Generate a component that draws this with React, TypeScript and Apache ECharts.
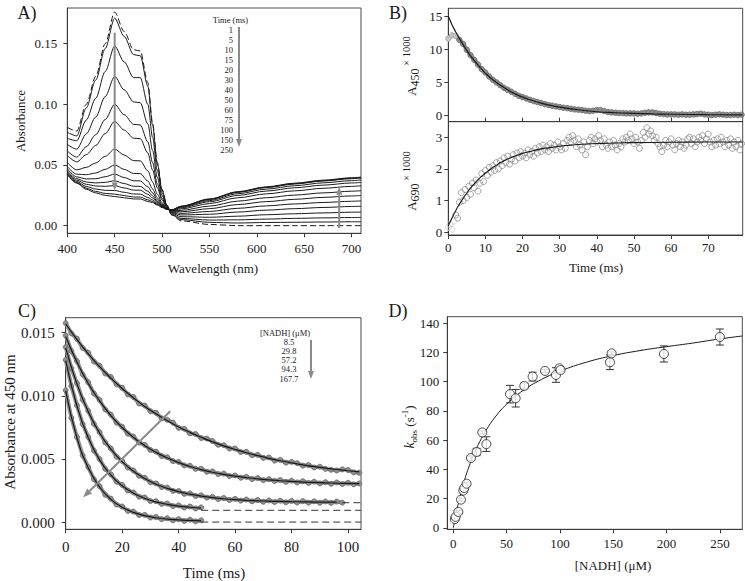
import React, { useEffect, useRef } from "react";
import * as echarts from "echarts";

const FONT = "Liberation Serif";
const INK = "#1a1a1a";
const AXIS = "#3a3a3a";
const ARROW = "#8a8a8a";

// ---------------- Panel A: spectra ----------------
const wavelengths = [400, 410, 420, 430, 440, 450, 460, 470, 477, 485, 490, 495, 500, 505, 510, 520, 550, 580, 610, 640, 670, 700, 710];
const timeLegend = ["1", "5", "10", "15", "20", "30", "40", "50", "60", "75", "100", "150", "250"];
const specOxidized = [0.081, 0.078, 0.100, 0.123, 0.150, 0.176, 0.160, 0.145, 0.144, 0.118, 0.085, 0.052, 0.030, 0.017, 0.009, 0.004, 0.001, 0.000, 0.000, 0.000, 0.000, 0.000, 0.000];
const spec1 = [0.077, 0.074, 0.097, 0.120, 0.146, 0.171, 0.156, 0.141, 0.140, 0.115, 0.083, 0.051, 0.0295, 0.017, 0.009, 0.005, 0.0027, 0.0022, 0.0026, 0.0028, 0.0030, 0.0032, 0.0032];
const spec5 = [0.072, 0.070, 0.087, 0.105, 0.127, 0.148, 0.135, 0.122, 0.122, 0.100, 0.073, 0.0456, 0.0272, 0.0164, 0.0097, 0.006, 0.0046, 0.0048, 0.0054, 0.0060, 0.0064, 0.0067, 0.0068];
const spec10 = [0.067, 0.063, 0.0756, 0.0895, 0.1064, 0.123, 0.112, 0.102, 0.1014, 0.0838, 0.062, 0.0398, 0.0248, 0.0158, 0.0104, 0.0074, 0.0069, 0.0078, 0.0090, 0.0098, 0.0105, 0.0111, 0.0112];
const spec15 = [0.0615, 0.0565, 0.065, 0.075, 0.0875, 0.100, 0.0915, 0.0835, 0.083, 0.069, 0.052, 0.0345, 0.0225, 0.0153, 0.011, 0.0088, 0.0094, 0.0112, 0.0128, 0.0140, 0.0150, 0.0158, 0.0160];
const spec20 = [0.0579, 0.0525, 0.0585, 0.0661, 0.0759, 0.0859, 0.0788, 0.0721, 0.0717, 0.0599, 0.0459, 0.0312, 0.0211, 0.0149, 0.0114, 0.0101, 0.0117, 0.0143, 0.0163, 0.0179, 0.0191, 0.0201, 0.0204];
const spec30 = [0.052, 0.046, 0.048, 0.0517, 0.0571, 0.0631, 0.0582, 0.0536, 0.0534, 0.0452, 0.036, 0.026, 0.0189, 0.0144, 0.012, 0.0114, 0.014, 0.0174, 0.0198, 0.0217, 0.0233, 0.0245, 0.0248];
const spec40 = [0.0487, 0.0424, 0.042, 0.0434, 0.0464, 0.050, 0.0464, 0.043, 0.0429, 0.0368, 0.0303, 0.023, 0.0176, 0.0141, 0.0123, 0.0126, 0.0161, 0.0202, 0.0230, 0.0252, 0.0270, 0.0284, 0.0288];
const spec50 = [0.0468, 0.0402, 0.0385, 0.0387, 0.0403, 0.0425, 0.0397, 0.037, 0.0369, 0.032, 0.027, 0.0213, 0.0168, 0.0139, 0.0125, 0.0138, 0.0182, 0.0230, 0.0262, 0.0287, 0.0308, 0.0324, 0.0328];
const spec60 = [0.0453, 0.0387, 0.036, 0.0352, 0.0357, 0.037, 0.0347, 0.0325, 0.0324, 0.0284, 0.0246, 0.020, 0.0163, 0.0138, 0.0127, 0.0147, 0.0197, 0.0249, 0.0285, 0.0312, 0.0334, 0.0352, 0.0356];
const spec75 = [0.0443, 0.0375, 0.0341, 0.0327, 0.0324, 0.033, 0.0311, 0.0293, 0.0292, 0.0258, 0.0229, 0.0191, 0.0159, 0.0137, 0.0128, 0.0153, 0.0207, 0.0263, 0.0301, 0.0329, 0.0353, 0.0371, 0.0376];
const spec100 = [0.0433, 0.0364, 0.0323, 0.0302, 0.0291, 0.029, 0.0275, 0.0261, 0.026, 0.0232, 0.0212, 0.0182, 0.0155, 0.0136, 0.0129, 0.0158, 0.0216, 0.0274, 0.0314, 0.0343, 0.0368, 0.0387, 0.0392];
const spec150 = [0.0425, 0.0356, 0.0309, 0.0282, 0.0266, 0.026, 0.0248, 0.0236, 0.0236, 0.0213, 0.0199, 0.0175, 0.0152, 0.0135, 0.0129, 0.0159, 0.0218, 0.0277, 0.0317, 0.0347, 0.0371, 0.0391, 0.0396];
const spec250 = [0.042, 0.035, 0.030, 0.027, 0.025, 0.024, 0.023, 0.022, 0.022, 0.020, 0.019, 0.017, 0.015, 0.0135, 0.013, 0.016, 0.022, 0.028, 0.032, 0.035, 0.0375, 0.0395, 0.040];
const wavelengthTicks = [400, 450, 500, 550, 600, 650, 700];
const absorbanceTicksA = [0, 0.05, 0.1, 0.15];
const arrowA450 = [[450, 0.159], [450, 0.029]];
const arrowA690 = [[687, -0.002], [687, 0.032]];

// ---------------- Panel B: single-wavelength kinetics ----------------
const bTopTime = [0,1,2,3,4,5,6,7,8,9,10,11,12,13,14,15,16,17,18,19,20,21,22,23,24,25,26,27,28,29,30,31,32,33,34,35,36,37,38,39,40,41,42,43,44,45,46,47,48,49,50,51,52,53,54,55,56,57,58,59,60,61,62,63,64,65,66,67,68,69,70,71,72,73,74,75,76,77,78,79];
const bTopA450 = [11.6,12.1,12.0,11.4,10.8,9.9,9.1,8.4,7.7,7.0, 6.5,5.9,5.4,5.0,4.6,4.2,3.9,3.6,3.3,3.0, 2.8,2.6,2.4,2.2,2.05,1.9,1.75,1.6,1.5,1.4, 1.3,1.2,1.15,1.05,0.95,0.9,0.85,0.75,0.7,0.75, 0.85,0.85,0.7,0.55,0.5,0.45,0.4,0.4,0.35,0.35, 0.35,0.3,0.35,0.45,0.5,0.5,0.4,0.3,0.25,0.2, 0.2,0.2,0.15,0.2,0.15,0.15,0.2,0.25,0.3,0.2, 0.15,0.1,0.15,0.2,0.15,0.1,0.1,0.15,0.1,0.15];
const bTopFitTime = [0,1,2,3,4,5,6,7,8,9,10,12,14,16,18,20,22,25,28,30,35,40,45,50,55,60,70,79.3];
const bTopFit = [15.0,13.7,12.6,11.6,10.7,9.8,9.0,8.3,7.6,7.0,6.4,5.4,4.6,3.9,3.3,2.8,2.4,1.9,1.5,1.3,0.9,0.6,0.45,0.35,0.27,0.22,0.15,0.12];
const bBotTime = [0,0.5,1,1.5,2,2.5,3,3.5,4,4.5, 5,5.5,6,6.5,7,7.5,8,8.5,9,9.5, 10,10.5,11,11.5,12,12.5,13,13.5,14,14.5, 15,15.5,16,16.5,17,17.5,18,18.5,19,19.5, 20,20.5,21,21.5,22,22.5,23,23.5,24,24.5, 25,25.5,26,26.5,27,27.5,28,28.5,29,29.5, 30,30.5,31,31.5,32,32.5,33,33.5,34,34.5, 35,35.5,36,36.5,37,37.5,38,38.5,39,39.5, 40,40.5,41,41.5,42,42.5,43,43.5,44,44.5, 45,45.5,46,46.5,47,47.5,48,48.5,49,49.5, 50,50.5,51,51.5,52,52.5,53,53.5,54,54.5, 55,55.5,56,56.5,57,57.5,58,58.5,59,59.5, 60,60.5,61,61.5,62,62.5,63,63.5,64,64.5, 65,65.5,66,66.5,67,67.5,68,68.5,69,69.5, 70,70.5,71,71.5,72,72.5,73,73.5,74,74.5, 75,75.5,76,76.5,77,77.5,78,78.5,79];
const bBotA690 = [0.15,0.25,0.1,0.35,0.55,0.45,0.95,1.25,1.0,1.35, 1.1,1.45,1.2,1.55,1.4,1.65,1.3,1.55,1.85,1.6, 1.95,1.8,2.05,1.9,2.1,1.95,2.2,2.0,2.25,2.1, 2.35,2.2,2.4,2.15,2.3,2.45,2.25,2.5,2.35,2.55, 2.4,2.5,2.35,2.6,2.45,2.55,2.4,2.65,2.5,2.7, 2.55,2.75,2.6,2.7,2.55,2.8,2.65,2.75,2.6,2.85, 2.7,2.6,2.8,2.65,2.9,3.0,2.85,3.05,2.9,2.7, 2.95,2.75,2.6,2.85,2.45,2.7,2.9,3.0,2.8,2.95, 2.85,3.05,2.9,2.7,2.95,2.75,2.65,2.85,2.7,2.9, 2.75,2.6,2.8,2.7,2.95,2.85,3.0,2.9,3.1,2.95, 2.8,3.0,2.85,2.65,2.9,3.15,3.0,3.3,3.1,3.2, 3.05,2.9,3.0,2.8,2.7,2.55,2.75,2.9,2.7,2.85, 2.95,2.75,2.6,2.8,2.9,2.7,2.85,2.65,2.75,2.95, 3.0,2.8,2.95,2.7,2.85,3.0,2.9,3.05,2.8,2.95, 3.1,2.85,2.7,2.9,2.75,2.95,2.8,3.0,2.85,2.7, 2.9,2.75,2.95,2.65,2.85,2.7,2.9,2.6,2.8];
const bBotFitTime = [0,0.5,1,1.5,2,2.5,3,3.5,4,4.5,5,5.5,6,6.5,7,7.5,8,8.5,9,9.5,10,11,12,13,14,15,16,17,18,19,20,22,24,26,28,30,33,36,40,45,50,60,70,79.3];
const bBotFit = [0.20,0.33,0.45,0.57,0.68,0.79,0.89,0.98,1.07,1.16,1.24,1.32,1.40,1.47,1.53,1.60,1.66,1.72,1.77,1.82,1.87,1.96,2.05,2.12,2.20,2.26,2.31,2.36,2.41,2.45,2.49,2.55,2.61,2.65,2.68,2.72,2.75,2.78,2.80,2.82,2.83,2.84,2.85,2.85];
const deadTimeMs = 2;
const timeTicksB = [0, 10, 20, 30, 40, 50, 60, 70];
const a450Ticks = [0, 5, 10, 15];
const a690Ticks = [0, 1, 2, 3];

// ---------------- Panel C: NADH dependence traces ----------------
const nadhLegend = ["8.5", "29.8", "57.2", "94.3", "167.7"];
const cTimeLong = [0,2,4,6,8,10,12,14,16,18,20,22,24,26,28,30,32,34,36,38,40,42,44,46,48,50,52,54,56,58,60,62,64,66,68,70,72,74,76,78,80,82,84,86,88,90,92,94,96,98,100,102,104];
const cTimeMid = [0,2,4,6,8,10,12,14,16,18,20,22,24,26,28,30,32,34,36,38,40,42,44,46,48,50,52,54,56,58,60,62,64,66,68,70,72,74,76,78,80,82,84,86,88,90,92,94,96,98];
const cTimeShort = [0,2,4,6,8,10,12,14,16,18,20,22,24,26,28,30,32,34,36,38,40,42,44,46,48];
const cFitTimeLong = [0,4,8,12,16,20,24,28,32,36,40,44,48,52,56,60,64,68,72,76,80,84,88,92,96,100,104];
const cFitTimeShort = [0,4,8,12,16,20,24,28,32,36,40,44,48];
const c8p5 = [0.01575,0.01495,0.01452,0.0138,0.01341,0.01272,0.0124,0.01178,0.0115,0.01092,0.01065,0.01012,0.00992,0.0094,0.00925,0.0088,0.00868,0.00824,0.00812,0.0079,0.00748,0.00742,0.00705,0.007,0.00668,0.00664,0.00645,0.00615,0.00612,0.00585,0.00586,0.00558,0.0056,0.00533,0.00536,0.00512,0.00515,0.0049,0.00496,0.00474,0.0048,0.0047,0.0045,0.00455,0.00436,0.00442,0.00425,0.00418,0.00412,0.00421,0.00416,0.00398,0.00394];
const c29p8 = [0.01478,0.01355,0.01275,0.0117,0.01108,0.0102,0.00969,0.00894,0.00853,0.0079,0.00758,0.00703,0.0068,0.00632,0.00615,0.00574,0.00561,0.00526,0.00517,0.00486,0.0048,0.00452,0.0045,0.00425,0.00426,0.00402,0.00405,0.00384,0.00388,0.00368,0.00373,0.00355,0.00362,0.00345,0.00352,0.00336,0.00344,0.00329,0.00337,0.00322,0.00332,0.00318,0.00327,0.00314,0.00324,0.0031,0.0032,0.00307,0.00318,0.00305,0.00315,0.00303,0.0031];
const c57p2 = [0.01386,0.0122,0.01101,0.00971,0.00883,0.0078,0.00714,0.00634,0.00586,0.00521,0.00488,0.00435,0.00412,0.0037,0.00355,0.00319,0.0031,0.00281,0.00277,0.00251,0.00251,0.00228,0.00231,0.00211,0.00216,0.00198,0.00204,0.00187,0.00195,0.00179,0.00188,0.00174,0.00183,0.00169,0.00179,0.00165,0.00176,0.00163,0.00174,0.00161,0.00172,0.00159,0.00171,0.00158,0.00169,0.00157,0.00168,0.00156,0.00167,0.00158];
const c94p3 = [0.01285,0.01078,0.00926,0.00778,0.00676,0.00569,0.00502,0.00425,0.00382,0.00324,0.00298,0.00254,0.00239,0.00205,0.00199,0.00171,0.0017,0.00148,0.00151,0.00131,0.00137,0.0012,0.00128,0.00112,0.00121];
const c167p7 = [0.01045,0.00828,0.00676,0.00532,0.00439,0.00343,0.00288,0.00221,0.0019,0.00143,0.00128,0.00093,0.00088,0.00061,0.00062,0.00041,0.00045,0.00028,0.00035,0.00019,0.00028,0.00014,0.00024,0.0001,0.00019];
const fit8p5 = [0.0157,0.01445,0.01333,0.01232,0.01141,0.01059,0.00985,0.00918,0.00859,0.00805,0.00756,0.00713,0.00674,0.00638,0.00606,0.00578,0.00552,0.00529,0.00508,0.00489,0.00472,0.00457,0.00443,0.00431,0.0042,0.0041,0.00401];
const fit29p8 = [0.0147,0.01267,0.01099,0.00961,0.00846,0.00751,0.00673,0.00608,0.00555,0.00511,0.00474,0.00444,0.00419,0.00398,0.00381,0.00367,0.00356,0.00346,0.00338,0.00331,0.00326,0.00321,0.00318,0.00315,0.00312,0.0031,0.00308];
const fit57p2 = [0.0138,0.01094,0.00876,0.00708,0.0058,0.00482,0.00406,0.00349,0.00304,0.00271,0.00245,0.00225,0.0021,0.00198,0.00189,0.00182,0.00177,0.00173,0.0017,0.00168,0.00166,0.00165,0.00163,0.00163,0.00162];
const fit94p3 = [0.0128,0.0092,0.0067,0.00496,0.00376,0.00292,0.00233,0.00193,0.00164,0.00145,0.00131,0.00122,0.00115];
const fit167p7 = [0.0104,0.0067,0.00433,0.00282,0.00184,0.00122,0.00082,0.00056,0.00039,0.00029,0.00022,0.00018,0.00015];
const asymptoteStart = [98, 48, 48];
const asymptoteLevel = [0.00158, 0.00098, 0.00005];
const timeTicksC = [0, 20, 40, 60, 80, 100];
const absorbanceTicksC = [0, 0.005, 0.01, 0.015];
const arrowC = [[37, 0.0088], [6.2, 0.002]];

// ---------------- Panel D: kobs vs [NADH] ----------------
const dNadh = [1.5, 2.2, 4.7, 7.2, 9.4, 10.3, 12.5, 16.6, 21.9, 27.2, 31.0, 53.2, 58.5, 66.6, 74.4, 86.0, 96.3, 99.5, 100.6, 146.9, 148.5, 197.5, 250.0];
const dKobs = [6.0, 7.5, 10.9, 19.3, 25.5, 27.3, 30.2, 47.8, 51.9, 65.3, 57.3, 91.5, 88.7, 97.1, 103.5, 107.4, 104.6, 109.2, 108.0, 113.3, 119.4, 119.0, 130.6];
const dErr = [0.5, 0.5, 1, 1, 1, 1, 1, 1.5, 2.5, 1, 5, 6, 6, 2, 3, 1, 5, 1, 1, 5, 1, 5.5, 5.5];
const dFitNadh = [0, 2, 5, 10, 15, 20, 25, 30, 40, 50, 60, 70, 80, 90, 100, 125, 150, 175, 200, 225, 250, 271];
const dFitKobs = [0, 7.5, 17.5, 31.3, 42.4, 51.7, 59.2, 65.9, 76.5, 84.6, 91.0, 96.3, 100.5, 104.2, 107.3, 113.4, 117.9, 121.3, 124.0, 126.5, 129.3, 131.3];
const nadhTicks = [0, 50, 100, 150, 200, 250];
const kobsTicks = [0, 20, 40, 60, 80, 100, 120, 140];

const pairs = (xs: number[], ys: number[]) => ys.map((y, i) => [xs[i], y]);

function valueAxis(gi: number, min: number, max: number, ticks: number[], o: any = {}) {
  return {
    type: "value",
    gridIndex: gi,
    min,
    max,
    axisLine: { show: true, onZero: false, lineStyle: { color: AXIS, width: 1 } },
    axisTick: { show: true, inside: !!o.inside, length: 4, customValues: ticks, lineStyle: { color: AXIS, width: 1 } },
    axisLabel: {
      show: o.labels !== false,
      customValues: ticks,
      margin: o.margin ?? 8,
      fontFamily: FONT,
      fontSize: o.fontSize ?? 13,
      color: INK,
      formatter: o.fmt ?? ((v: number) => String(v)),
    },
    splitLine: { show: false },
  };
}

function buildOption() {
  const grids = [
    { left: 67.3, top: 8, width: 293.7, height: 225.3 },
    { left: 448.3, top: 8.3, width: 294.4, height: 113.4 },
    { left: 448.3, top: 121.7, width: 294.4, height: 113.3 },
    { left: 65.7, top: 317.7, width: 295.3, height: 211.6 },
    { left: 447.3, top: 316.7, width: 295, height: 212.6 },
  ].map((g) => ({ ...g, show: true, borderColor: "#4a4a4a", borderWidth: 1, backgroundColor: "#fff", containLabel: false, outerBoundsMode: "none" }));

  const xAxis = [
    valueAxis(0, 400, 710, wavelengthTicks, { margin: 9 }),
    valueAxis(1, 0, 79.3, timeTicksB, { inside: true, labels: false }),
    valueAxis(2, 0, 79.3, timeTicksB, { margin: 6 }),
    valueAxis(3, 0, 104.6, timeTicksC, { margin: 10, fontSize: 15 }),
    valueAxis(4, -5.6, 271, nadhTicks, { margin: 8 }),
  ];
  const yAxis = [
    valueAxis(0, -0.0063, 0.1794, absorbanceTicksA, { margin: 10, fmt: (v: number) => v.toFixed(2) }),
    valueAxis(1, -0.9, 16.16, a450Ticks, { margin: 6 }),
    valueAxis(2, -0.085, 3.49, a690Ticks, { margin: 6 }),
    valueAxis(3, -0.00052, 0.01618, absorbanceTicksC, { margin: 11, fontSize: 15, fmt: (v: number) => v.toFixed(3) }),
    valueAxis(4, -1, 144.5, kobsTicks, { margin: 8 }),
  ];

  const series: any[] = [];
  const solid = [spec1, spec5, spec10, spec15, spec20, spec30, spec40, spec50, spec60, spec75, spec100, spec150, spec250];
  solid.forEach((arr, k) => {
    series.push({
      name: "t" + timeLegend[k],
      type: "line", xAxisIndex: 0, yAxisIndex: 0, data: pairs(wavelengths, arr),
      showSymbol: false, smooth: 0.3, smoothMonotone: "x", silent: true,
      lineStyle: { color: INK, width: 1 },
    });
  });
  series.push({
    type: "line", xAxisIndex: 0, yAxisIndex: 0, data: pairs(wavelengths, specOxidized),
    showSymbol: false, smooth: 0.3, smoothMonotone: "x", silent: true,
    lineStyle: { color: INK, width: 1, type: [6, 3] },
  });

  const band = (gi: number, data: any[], size = 5) => ({
    type: "line", xAxisIndex: gi, yAxisIndex: gi, data, showSymbol: true, symbol: "circle", symbolSize: size,
    silent: true, z: 2,
    itemStyle: { color: "#8e8e8e", borderColor: "#6a6a6a", borderWidth: 0.8 },
    lineStyle: { color: "#8e8e8e", width: 4 },
  });
  const fit = (gi: number, data: number[][], w = 1.2) => ({
    type: "line", xAxisIndex: gi, yAxisIndex: gi, data, showSymbol: false, smooth: true, silent: true, z: 4,
    lineStyle: { color: INK, width: w },
  });

  // B (points inside the instrument dead time drawn lighter)
  const topData = pairs(bTopTime, bTopA450).map((p) =>
    p[0] <= deadTimeMs ? { value: p, itemStyle: { color: "#c4c4c4", borderColor: "#a8a8a8" } } : p
  );
  series.push(band(1, topData, 5.5));
  series.push(fit(1, pairs(bTopFitTime, bTopFit), 1.2));
  const botData = pairs(bBotTime, bBotA690).map((p) =>
    p[0] < deadTimeMs ? { value: p, itemStyle: { borderColor: "#cfcfcf" } } : p
  );
  series.push({
    type: "scatter", xAxisIndex: 2, yAxisIndex: 2, data: botData, symbolSize: 6, silent: true, z: 2,
    itemStyle: { color: "rgba(255,255,255,0)", borderColor: "#8f8f8f", borderWidth: 1 },
  });
  series.push(fit(2, pairs(bBotFitTime, bBotFit), 1.1));

  // C
  series.push(band(3, pairs(cTimeLong, c8p5)));
  series.push(band(3, pairs(cTimeLong, c29p8)));
  series.push(band(3, pairs(cTimeMid, c57p2)));
  series.push(band(3, pairs(cTimeShort, c94p3)));
  series.push(band(3, pairs(cTimeShort, c167p7)));
  series.push(fit(3, pairs(cFitTimeLong, fit8p5)));
  series.push(fit(3, pairs(cFitTimeLong, fit29p8)));
  series.push(fit(3, pairs(cFitTimeLong, fit57p2)));
  series.push(fit(3, pairs(cFitTimeShort, fit94p3)));
  series.push(fit(3, pairs(cFitTimeShort, fit167p7)));
  asymptoteStart.forEach((s, i) => {
    series.push({
      type: "line", xAxisIndex: 3, yAxisIndex: 3, data: [[s, asymptoteLevel[i]], [104.6, asymptoteLevel[i]]],
      showSymbol: false, silent: true, z: 3, lineStyle: { color: "#333", width: 1, type: [7, 4] },
    });
  });

  // D
  series.push(fit(4, pairs(dFitNadh, dFitKobs), 1));
  series.push({
    type: "custom", xAxisIndex: 4, yAxisIndex: 4, silent: true, z: 3,
    data: dNadh.map((x, i) => [x, dKobs[i], dErr[i]]),
    encode: { x: 0, y: 1 },
    renderItem: (_p: any, api: any) => {
      const x = api.value(0), y = api.value(1), e = api.value(2);
      const hi = api.coord([x, y + e]);
      const lo = api.coord([x, y - e]);
      const cap = 4;
      const st = { stroke: "#333", lineWidth: 1 };
      return {
        type: "group",
        children: [
          { type: "line", shape: { x1: hi[0], y1: hi[1], x2: lo[0], y2: lo[1] }, style: st },
          { type: "line", shape: { x1: hi[0] - cap, y1: hi[1], x2: hi[0] + cap, y2: hi[1] }, style: st },
          { type: "line", shape: { x1: lo[0] - cap, y1: lo[1], x2: lo[0] + cap, y2: lo[1] }, style: st },
        ],
      };
    },
  });
  series.push({
    type: "scatter", xAxisIndex: 4, yAxisIndex: 4, data: pairs(dNadh, dKobs), symbolSize: 9, silent: true, z: 5,
    itemStyle: { color: "#ffffff", borderColor: "#222", borderWidth: 1 },
  });

  return {
    animation: false,
    backgroundColor: "#ffffff",
    textStyle: { fontFamily: FONT },
    grid: grids,
    xAxis,
    yAxis,
    series,
  };
}

function txt(x: number, y: number, text: string, size: number, o: any = {}) {
  const align = o.align || "center";
  const valign = o.valign || "middle";
  return {
    type: "text", x, y, rotation: o.rot || 0, silent: true, z: 100,
    style: {
      text, fontFamily: FONT, fontSize: size, fill: INK,
      fontStyle: o.italic ? "italic" : "normal",
      textAlign: align, align, textVerticalAlign: valign, verticalAlign: valign,
      rich: o.rich,
    },
  };
}

function arrow(p1: number[], p2: number[], width = 2, headLen = 8, headW = 6) {
  const dx = p2[0] - p1[0], dy = p2[1] - p1[1];
  const len = Math.hypot(dx, dy) || 1;
  const ux = dx / len, uy = dy / len;
  const bx = p2[0] - ux * headLen, by = p2[1] - uy * headLen;
  const nx = -uy, ny = ux;
  return [
    { type: "line", silent: true, z: 90, shape: { x1: p1[0], y1: p1[1], x2: bx, y2: by }, style: { stroke: ARROW, lineWidth: width } },
    {
      type: "polygon", silent: true, z: 90,
      shape: { points: [[p2[0], p2[1]], [bx + (nx * headW) / 2, by + (ny * headW) / 2], [bx - (nx * headW) / 2, by - (ny * headW) / 2]] },
      style: { fill: ARROW },
    },
  ];
}

function buildGraphic(px: (g: number, p: number[]) => number[]) {
  const g: any[] = [];
  const tok = (size: number, va: string, lh: number, extra: any = {}) => ({ fontFamily: FONT, fontSize: size, lineHeight: lh, verticalAlign: va, fill: INK, color: INK, ...extra });
  const richB = { n: tok(13, "middle", 20), s: tok(12, "bottom", 12), x: tok(10.5, "top", 10) };
  const richD = { k: tok(14, "middle", 18, { fontStyle: "italic" }), n: tok(13, "middle", 18), s: tok(9, "bottom", 9), x: tok(9, "top", 9) };

  // panel letters
  g.push(txt(27, 13, "A)", 18));
  g.push(txt(398, 13, "B)", 18));
  g.push(txt(27, 311, "C)", 18));
  g.push(txt(398, 311, "D)", 18));

  // axis names
  g.push(txt(20, 121, "Absorbance", 13, { rot: Math.PI / 2 }));
  g.push(txt(213, 268, "Wavelength (nm)", 13));
  g.push(txt(411, 66, "{n|A}{s|450}{x| × 1000}", 13, { rot: Math.PI / 2, rich: richB }));
  g.push(txt(411, 181, "{n|A}{s|690}{x| × 1000}", 13, { rot: Math.PI / 2, rich: richB }));
  g.push(txt(596, 267, "Time (ms)", 13));
  g.push(txt(10, 422, "Absorbance at 450 nm", 15, { rot: Math.PI / 2 }));
  g.push(txt(214, 573, "Time (ms)", 15));
  g.push(txt(409, 427, "{k|k}{s|obs}{n| (s}{x|-1}{n|)}", 13, { rot: Math.PI / 2, rich: richD }));
  g.push(txt(613, 565, "[NADH] (μM)", 13));

  // panel A legend
  g.push(txt(230.5, 19.5, "Time (ms)", 8.5));
  timeLegend.forEach((t, i) => g.push(txt(233, 29.5 + i * 10, t, 8.5, { align: "right" })));
  g.push(...arrow([239, 27], [239, 147], 2, 8, 6));
  // panel A arrows (data coordinates)
  g.push(...arrow(px(0, arrowA450[0]), px(0, arrowA450[1]), 2, 8, 6));
  g.push(...arrow(px(0, arrowA690[0]), px(0, arrowA690[1]), 2, 8, 6));

  // panel C legend
  g.push(txt(285, 333, "[NADH] (μM)", 8.5));
  nadhLegend.forEach((t, i) => g.push(txt(289, 341.5 + i * 9.3, t, 8.5)));
  g.push(...arrow([311, 340], [311, 379], 2, 8, 6));
  g.push(...arrow(px(3, arrowC[0]), px(3, arrowC[1]), 2, 9, 7));

  return g;
}

export default function App() {
  const ref = useRef<HTMLDivElement | null>(null);
  useEffect(() => {
    const el = ref.current;
    if (!el) return;
    const chart = echarts.init(el, null, { renderer: "svg" });
    chart.setOption(buildOption() as any);
    const px = (gi: number, p: number[]) => chart.convertToPixel({ xAxisIndex: gi, yAxisIndex: gi } as any, p) as unknown as number[];
    chart.setOption({ graphic: buildGraphic(px) } as any);
    return () => chart.dispose();
  }, []);
  return <div ref={ref} style={{ position: "fixed", left: 0, top: 0, width: 745, height: 581, background: "#fff" }} />;
}
